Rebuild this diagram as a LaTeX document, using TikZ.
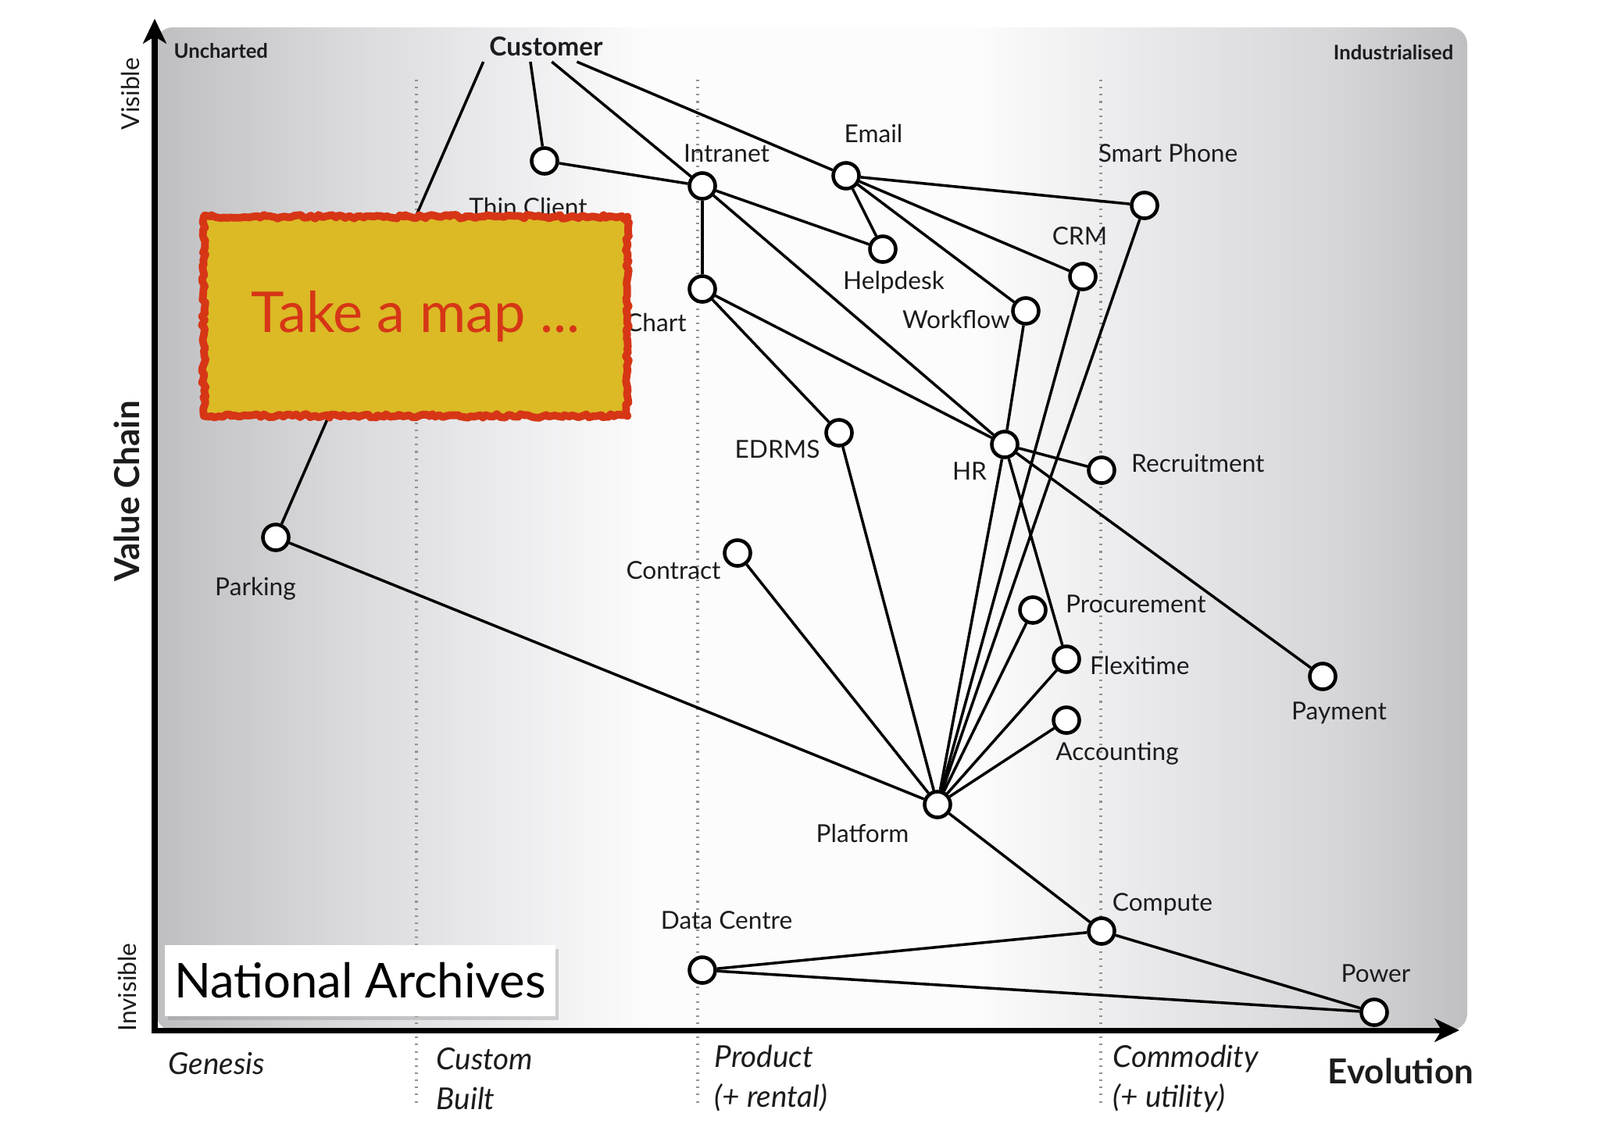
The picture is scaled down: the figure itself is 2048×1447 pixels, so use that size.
\documentclass[tikz,border=0pt]{standalone}
\usepackage{fontspec}
\setmainfont{Lato}
\usetikzlibrary{arrows.meta, positioning, shadows, decorations.pathmorphing}
\definecolor{mapyellow}{RGB}{219,186,38}
\definecolor{mapred}{RGB}{214,54,22}
\definecolor{inkdark}{RGB}{28,28,30}
\pgfdeclarehorizontalshading{evopanel}{100bp}{rgb(0bp)=(0.75,0.75,0.76); rgb(25bp)=(0.75,0.75,0.76); rgb(32bp)=(0.85,0.85,0.86); rgb(38bp)=(0.92,0.92,0.93); rgb(44bp)=(0.99,0.99,0.99); rgb(56bp)=(0.99,0.99,0.99); rgb(63bp)=(0.91,0.91,0.92); rgb(70bp)=(0.84,0.84,0.85); rgb(75bp)=(0.75,0.75,0.76); rgb(100bp)=(0.75,0.75,0.76)}

\begin{document}
\begin{tikzpicture}[
    x=0.01cm, y=-0.01cm,
    comp/.style={circle, draw=black, fill=white, line width=1.3pt,
        minimum size=0.33cm, inner sep=0pt},
    lbl/.style={font=\fontsize{9}{11}\selectfont, text=inkdark, inner sep=1pt},
    stage/.style={font=\fontsize{11}{14.5}\selectfont\itshape, text=inkdark,
        align=left, inner sep=0pt, anchor=west},
    corner/.style={font=\fontsize{7.3}{9}\selectfont\bfseries, text=inkdark, inner sep=0pt},
    side/.style={font=\fontsize{9}{11}\selectfont, text=inkdark, rotate=90, inner sep=0pt},
    title/.style={font=\fontsize{12.5}{14}\selectfont\bfseries, text=inkdark, inner sep=0pt},
    link/.style={line width=1pt, black},
    evoaxis/.style={line width=2pt, black, line cap=rect,
        -{Stealth[length=9pt, width=8.5pt, inset=2.5pt]}},
    phase/.style={line width=1.1pt, gray!85, dash pattern=on 0.6pt off 2pt},
    mapbox/.style={fill=mapyellow, draw=mapred, line width=2.8pt, line join=round,
        minimum width=5.42cm, minimum height=2.55cm,
        decorate, decoration={random steps, segment length=1.3pt, amplitude=0.7pt},
        font=\fontsize{20.5}{22}\selectfont, text=mapred},
    namebox/.style={fill=white, minimum width=5cm, minimum height=0.91cm,
        drop shadow={opacity=0.3, shadow xshift=1.2pt, shadow yshift=-1.6pt},
        font=\fontsize{17.5}{19}\selectfont, text=black}
]
\useasboundingbox (0,0) rectangle (2048,1447);

% panel and phases
\shade[shading=evopanel, rounded corners=6pt] (200,35) rectangle (1878,1319);
\foreach \x in {533,893,1409}
    \draw[phase] (\x,102) -- (\x,1417);

\draw[evoaxis] (198,1319) -- (198,24);
\draw[evoaxis] (198,1319) -- (1868,1319);

% axis texts
\node[corner, anchor=west] (uncharted) at (222,65) {Uncharted};
\node[corner, anchor=east] (industrial) at (1861,67) {Industrialised};
\node[side] (visible) at (167,120) {Visible};
\node[side] (invisible) at (163,1264) {Invisible};
\node[title, rotate=90] (valuechain) at (162,629) {Value Chain};
\node[title] (evolution) at (1793,1371) {Evolution};
\node[stage] (genesis) at (215,1362) {Genesis};
\node[stage] (custom) at (558,1381) {Custom\\Built};
\node[stage] (product) at (914,1381) {Product\\(+ rental)};
\node[stage] (commodity) at (1424,1381) {Commodity\\(+ utility)};

% components
\node[lbl, font=\fontsize{9.5}{11}\selectfont\bfseries, inner sep=2pt] (customer) at (699,59) {Customer};
\node[comp] (thin) at (697,206) {};
\node[comp] (intranet) at (899,238) {};
\node[comp] (email) at (1083,225) {};
\node[comp] (phone) at (1465,263) {};
\node[comp] (helpdesk) at (1130,319) {};
\node[comp] (crm) at (1386,354) {};
\node[comp] (workflow) at (1313,398) {};
\node[comp] (chart) at (899,370) {};
\node[comp] (edrms) at (1074,554) {};
\node[comp] (hr) at (1286,569) {};
\node[comp] (recruit) at (1410,602) {};
\node[comp] (parking) at (353,688) {};
\node[comp] (contract) at (944,708) {};
\node[comp] (procure) at (1322,781) {};
\node[comp] (flexi) at (1365,844) {};
\node[comp] (payment) at (1693,866) {};
\node[comp] (account) at (1365,922) {};
\node[comp] (platform) at (1200,1030) {};
\node[comp] (compute) at (1410,1192) {};
\node[comp] (datacentre) at (899,1242) {};
\node[comp] (power) at (1759,1296) {};

% component names
\node[lbl] (thin-l) at (676,265) {Thin Client};
\node[lbl] (intranet-l) at (930,196) {Intranet};
\node[lbl] (email-l) at (1118,171) {Email};
\node[lbl] (phone-l) at (1495,196) {Smart Phone};
\node[lbl] (helpdesk-l) at (1144,362) {Helpdesk};
\node[lbl] (crm-l) at (1382,302) {CRM};
\node[lbl] (workflow-l) at (1224,409) {Workflow};
\node[lbl, anchor=west] (chart-l) at (797,413) {Chart};
\node[lbl] (edrms-l) at (995,575) {EDRMS};
\node[lbl] (hr-l) at (1241,603) {HR};
\node[lbl, anchor=west] (recruit-l) at (1444,593) {Recruitment};
\node[lbl] (parking-l) at (327,754) {Parking};
\node[lbl] (contract-l) at (862,730) {Contract};
\node[lbl, anchor=west] (procure-l) at (1360,773) {Procurement};
\node[lbl, anchor=west] (flexi-l) at (1391,852) {Flexitime};
\node[lbl] (payment-l) at (1714,913) {Payment};
\node[lbl] (account-l) at (1430,965) {Accounting};
\node[lbl] (platform-l) at (1104,1067) {Platform};
\node[lbl] (compute-l) at (1488,1158) {Compute};
\node[lbl] (datacentre-l) at (930,1178) {Data Centre};
\node[lbl] (power-l) at (1761,1246) {Power};

% value chain links
\draw[link] (customer.south west) -- (parking);
\draw[link] (customer.225) -- (thin);
\draw[link] (customer.290) -- (intranet);
\draw[link] (customer.333) -- (email);
\draw[link] (thin) -- (intranet);
\draw[link] (intranet) -- (helpdesk);
\draw[link] (intranet) -- (chart);
\draw[link] (intranet) -- (hr);
\draw[link] (email) -- (helpdesk);
\draw[link] (email) -- (phone);
\draw[link] (email) -- (crm);
\draw[link] (email) -- (workflow);
\draw[link] (chart) -- (edrms);
\draw[link] (chart) -- (hr);
\draw[link] (workflow) -- (hr);
\draw[link] (hr) -- (recruit);
\draw[link] (hr) -- (flexi);
\draw[link] (hr) -- (payment);

% everything rests on the platform
\draw[link] (parking) -- (platform);
\draw[link] (contract) -- (platform);
\draw[link] (edrms) -- (platform);
\draw[link] (hr) -- (platform);
\draw[link] (crm) -- (platform);
\draw[link] (phone) -- (platform);
\draw[link] (procure) -- (platform);
\draw[link] (flexi) -- (platform);
\draw[link] (account) -- (platform);

\draw[link] (platform) -- (compute);
\draw[link] (datacentre) -- (compute);
\draw[link] (datacentre) -- (power);
\draw[link] (compute) -- (power);

% overlays
\node[mapbox] (takemap) at (532,405) {Take a map ...};
\node[namebox] (archives) at (461,1255) {National Archives};

\end{tikzpicture}
\end{document}
